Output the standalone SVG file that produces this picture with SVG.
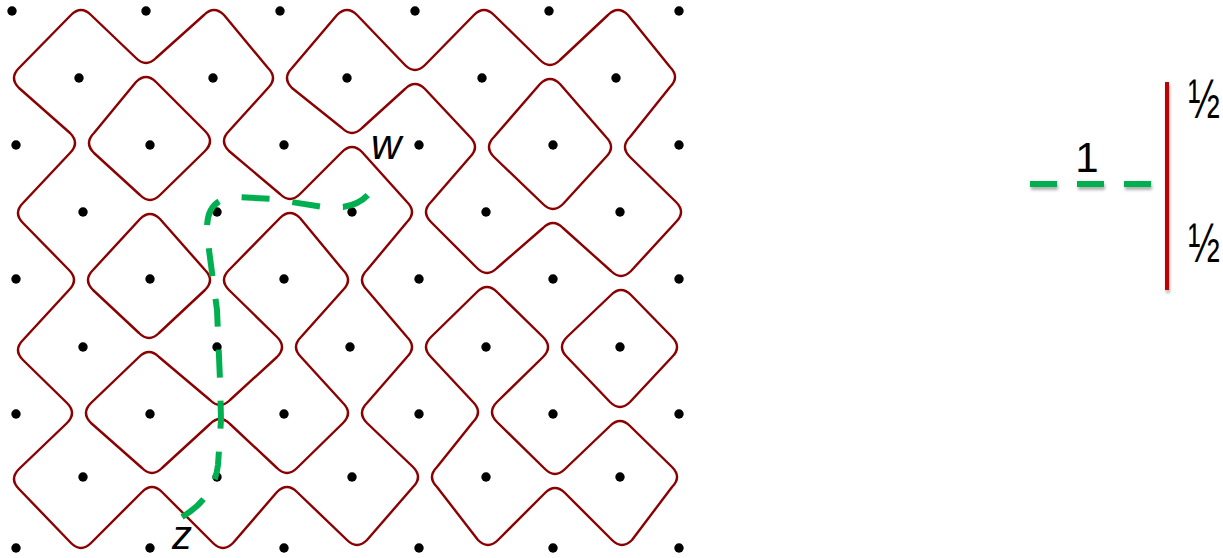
<svg xmlns="http://www.w3.org/2000/svg" width="1223" height="558" viewBox="0 0 1223 558">
<style>
.loop{fill:none;stroke:#8B0000;stroke-width:2.4;stroke-linejoin:round}
.dot{fill:#000}
.path{fill:none;stroke:#00B050;stroke-width:6;stroke-dasharray:28 23}
.lbl{font-family:"Liberation Sans",Arial,sans-serif;fill:#000}
.gdash{fill:#00B050}
</style>
<defs>
<filter id="sh" filterUnits="userSpaceOnUse" x="1000" y="60" width="223" height="260">
<feDropShadow dx="1" dy="3" stdDeviation="1.5" flood-color="#000" flood-opacity="0.3"/>
</filter>
</defs>
<g id="loops">
<path id="loop1" class="loop" d="M71,15 Q81,5 91,15 L136,58 Q146,68 156,58 L204,15 Q214,5 224,15 L268,68 Q278,78 268,88 L229,131 Q219,141 229,151 L280,194 Q290,204 300,194 L342,152 Q352,142 362,152 L407,202 Q417,212 407,222 L367,270 Q357,280 367,290 L407,337 Q417,347 407,357 L367,403 Q357,413 367,423 L413,467 Q423,477 413,487 L367,540 Q357,550 347,540 L297,492 Q287,482 277,492 L233,543 Q223,553 213,543 L162,492 Q152,482 142,492 L91,543 Q81,553 71,543 L19,489 Q9,479 19,469 L67,423 Q77,413 67,403 L23,360 Q13,350 23,340 L69,290 Q79,280 69,270 L23,223 Q13,213 23,203 L70,153 Q80,143 70,133 L19,88 Q9,78 19,68 Z"/>
<path id="loop2" class="loop" d="M136,82 Q146,72 156,82 L205,131 Q215,141 205,151 L160,195 Q150,205 140,195 L94,153 Q84,143 94,133 Z"/>
<path id="loop3" class="loop" d="M140,219 Q150,209 160,219 L205,270 Q215,280 205,290 L159,333 Q149,343 139,333 L93,290 Q83,280 93,270 Z"/>
<path id="loop4" class="loop" d="M139,357 Q149,347 159,357 L210,400 Q220,410 230,400 L277,357 Q287,347 277,337 L229,290 Q219,280 229,270 L280,218 Q290,208 300,218 L343,270 Q353,280 343,290 L301,337 Q291,347 301,357 L343,403 Q353,413 343,423 L297,468 Q287,478 277,468 L230,424 Q220,414 210,424 L162,468 Q152,478 142,468 L91,423 Q81,413 91,403 Z"/>
<path id="loop5" class="loop" d="M292,88 Q282,78 292,68 L337,15 Q347,5 357,15 L405,65 Q415,75 425,65 L474,15 Q484,5 494,15 L540,60 Q550,70 560,60 L608,15 Q618,5 628,15 L670,67 Q680,77 670,87 L630,137 Q620,147 630,157 L676,202 Q686,212 676,222 L631,271 Q621,281 611,271 L563,228 Q553,218 543,228 L497,268 Q487,278 477,268 L431,222 Q421,212 431,202 L470,157 Q480,147 470,137 L425,89 Q415,79 405,89 L362,128 Q352,138 342,128 Z"/>
<path id="loop6" class="loop" d="M540,84 Q550,74 560,84 L606,137 Q616,147 606,157 L563,204 Q553,214 543,204 L494,157 Q484,147 494,137 Z"/>
<path id="loop7" class="loop" d="M477,292 Q487,282 497,292 L543,337 Q553,347 543,357 L497,402 Q487,412 497,422 L545,469 Q555,479 565,469 L610,426 Q620,416 630,426 L672,467 Q682,477 672,487 L632,540 Q622,550 612,540 L565,493 Q555,483 545,493 L498,540 Q488,550 478,540 L437,487 Q427,477 437,467 L473,422 Q483,412 473,402 L431,357 Q421,347 431,337 Z"/>
<path id="loop8" class="loop" d="M611,295 Q621,285 631,295 L672,337 Q682,347 672,357 L630,402 Q620,412 610,402 L567,357 Q557,347 567,337 Z"/>
</g>
<g id="dots" class="dot">
<circle cx="12" cy="11" r="4.7"/><circle cx="146" cy="11" r="4.7"/><circle cx="280" cy="11" r="4.7"/><circle cx="415" cy="11" r="4.7"/><circle cx="549" cy="11" r="4.7"/><circle cx="679" cy="11" r="4.7"/>
<circle cx="79" cy="78" r="4.7"/><circle cx="213" cy="78" r="4.7"/><circle cx="347" cy="78" r="4.7"/><circle cx="482" cy="78" r="4.7"/><circle cx="616" cy="78" r="4.7"/>
<circle cx="16" cy="145" r="4.7"/><circle cx="150" cy="145" r="4.7"/><circle cx="284" cy="145" r="4.7"/><circle cx="419" cy="145" r="4.7"/><circle cx="553" cy="145" r="4.7"/><circle cx="679" cy="145" r="4.7"/>
<circle cx="83" cy="212" r="4.7"/><circle cx="217" cy="212" r="4.7"/><circle cx="352" cy="212" r="4.7"/><circle cx="486" cy="212" r="4.7"/><circle cx="620" cy="212" r="4.7"/>
<circle cx="16" cy="279" r="4.7"/><circle cx="150" cy="279" r="4.7"/><circle cx="284" cy="279" r="4.7"/><circle cx="419" cy="279" r="4.7"/><circle cx="553" cy="279" r="4.7"/><circle cx="679" cy="279" r="4.7"/>
<circle cx="83" cy="347" r="4.7"/><circle cx="217" cy="347" r="4.7"/><circle cx="350" cy="347" r="4.7"/><circle cx="486" cy="347" r="4.7"/><circle cx="620" cy="347" r="4.7"/>
<circle cx="16" cy="414" r="4.7"/><circle cx="150" cy="414" r="4.7"/><circle cx="284" cy="414" r="4.7"/><circle cx="419" cy="414" r="4.7"/><circle cx="553" cy="414" r="4.7"/><circle cx="679" cy="414" r="4.7"/>
<circle cx="83" cy="477" r="4.7"/><circle cx="217" cy="477" r="4.7"/><circle cx="352" cy="477" r="4.7"/><circle cx="486" cy="477" r="4.7"/><circle cx="620" cy="477" r="4.7"/>
<circle cx="16" cy="548" r="4.7"/><circle cx="150" cy="548" r="4.7"/><circle cx="284" cy="548" r="4.7"/><circle cx="419" cy="548" r="4.7"/><circle cx="553" cy="548" r="4.7"/><circle cx="679" cy="548" r="4.7"/>
</g>
<g id="connectors">
<path id="zw-path" class="path" d="M182,517 Q214,498 218,465 L221,420 L220,380 L217,310 L209,250 L207,228 Q207,198 236,197 L273,199 L323,207 L343,207 Q362,204 371,191"/>
</g>
<g id="label-w"><text class="lbl" x="371" y="159" font-size="42" font-style="italic">w</text></g>
<g id="label-z"><text class="lbl" x="172" y="549" font-size="40" font-style="italic">z</text></g>
<g id="legend">
<g id="legend-green">
<g filter="url(#sh)">
<rect class="gdash" x="1030" y="181" width="27" height="6"/>
<rect class="gdash" x="1077" y="181" width="27" height="6"/>
<rect class="gdash" x="1124" y="181" width="27" height="6"/>
</g>
<text class="lbl" x="1087" y="172" font-size="42" text-anchor="middle">1</text>
</g>
<g id="legend-red">
<rect x="1165" y="82" width="4" height="208" fill="#C00000" filter="url(#sh)"/>
<text class="lbl" font-size="38" text-anchor="middle" transform="translate(1204,118) scale(1,1.45)">½</text>
<text class="lbl" font-size="38" text-anchor="middle" transform="translate(1204,262) scale(1,1.45)">½</text>
</g>
</g>
</svg>
